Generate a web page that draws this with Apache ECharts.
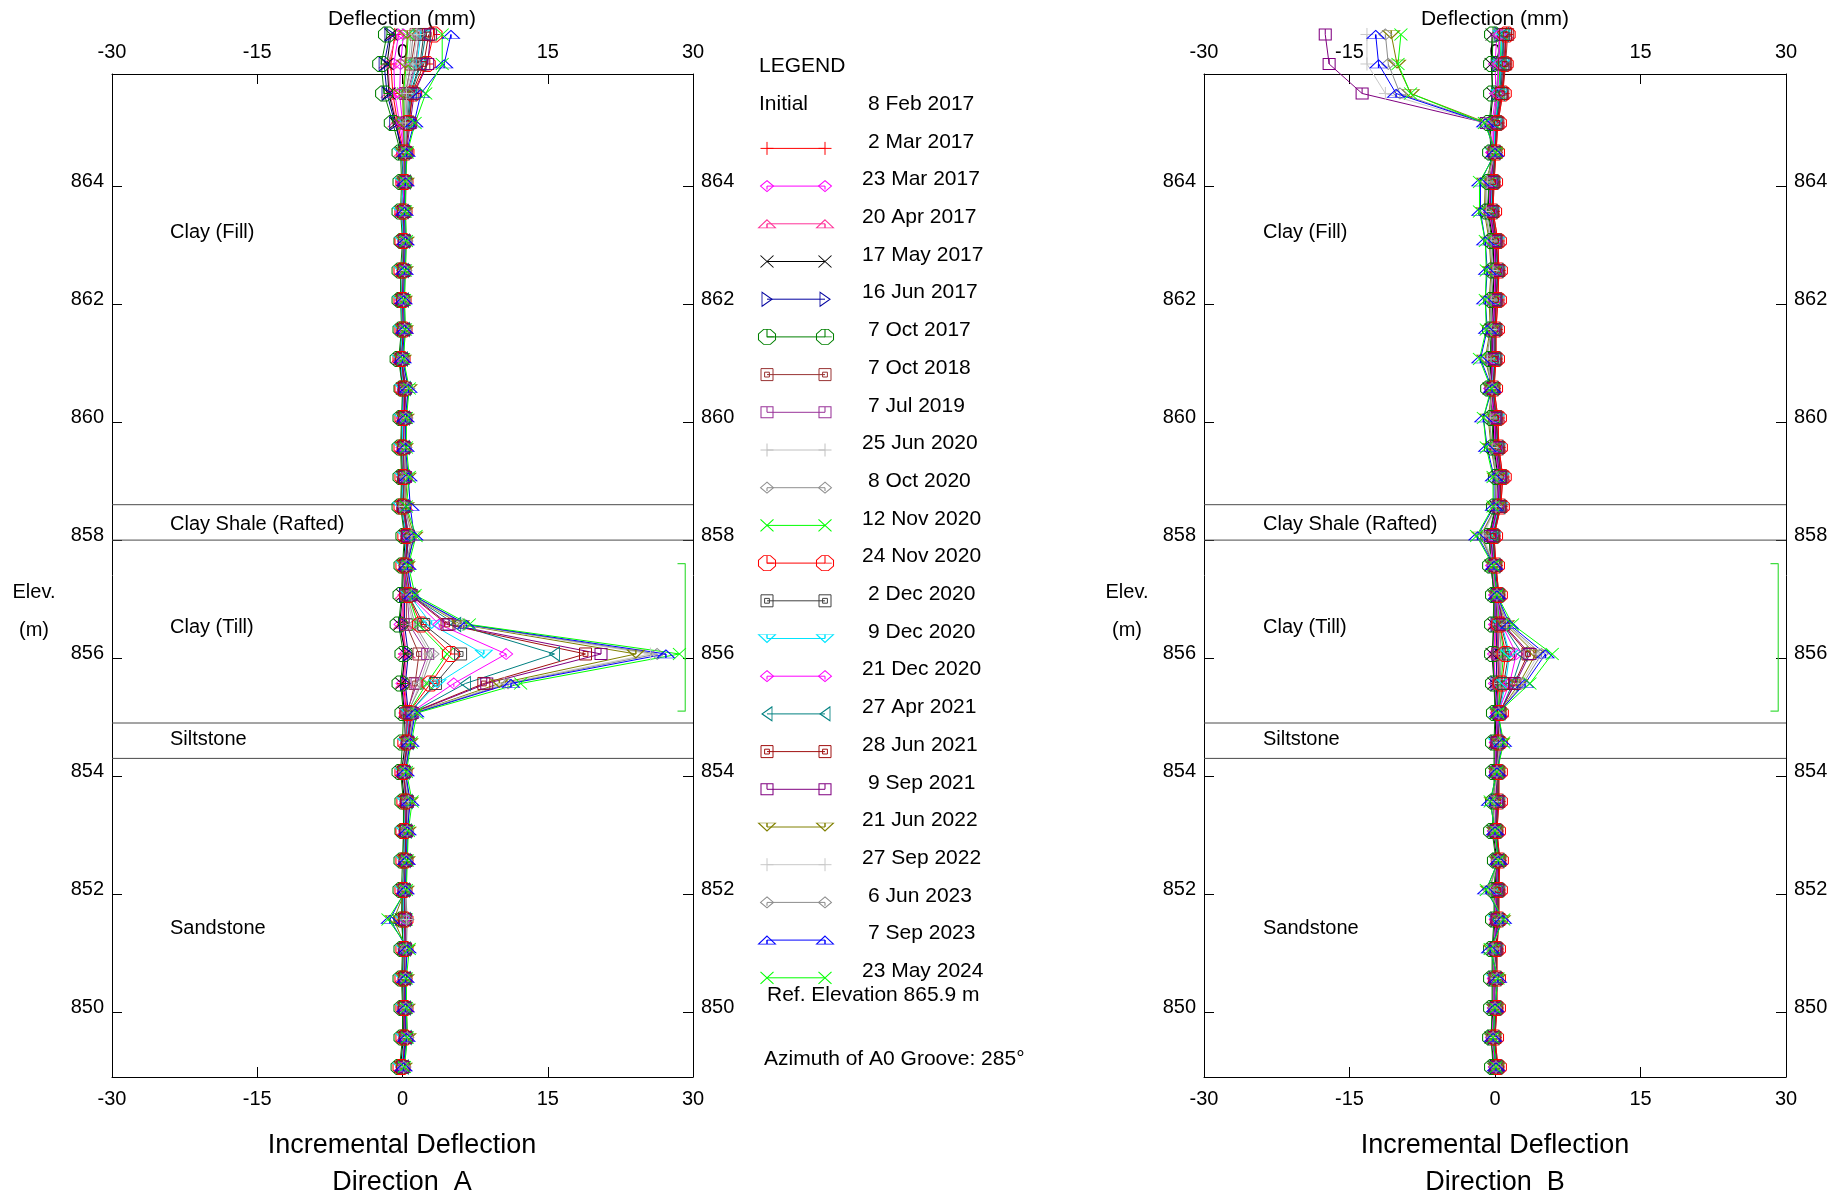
<!DOCTYPE html>
<html lang="en">
<head>
<meta charset="UTF-8">
<title>Incremental Deflection</title>
<script src="https://cdn.jsdelivr.net/npm/echarts@6/dist/echarts.min.js"></script>
<style>
    html, body { margin: 0; padding: 0; background: #fff; }
    #main { width: 1847px; height: 1197px; }
</style>
</head>
<body>
<div id="main"></div>
<script>
    const FONT = '"Liberation Sans", Arial, Helvetica, sans-serif';

    // reading elevations (m), top to bottom
    const elevations = [866.57, 866.07, 865.57, 865.07, 864.57, 864.07, 863.57, 863.07, 862.57, 862.07,
        861.57, 861.07, 860.57, 860.07, 859.57, 859.07, 858.57, 858.07, 857.57, 857.07,
        856.57, 856.07, 855.57, 855.07, 854.57, 854.07, 853.57, 853.07, 852.57, 852.07,
        851.57, 851.07, 850.57, 850.07, 849.57, 849.07];

    const initialDate = '8 Feb 2017';
    const dates = ['2 Mar 2017', '23 Mar 2017', '20 Apr 2017', '17 May 2017', '16 Jun 2017', '7 Oct 2017',
        '7 Oct 2018', '7 Jul 2019', '25 Jun 2020', '8 Oct 2020', '12 Nov 2020', '24 Nov 2020',
        '2 Dec 2020', '9 Dec 2020', '21 Dec 2020', '27 Apr 2021', '28 Jun 2021', '9 Sep 2021',
        '21 Jun 2022', '27 Sep 2022', '6 Jun 2023', '7 Sep 2023', '23 May 2024'];

    const colors = ['#ff0000', '#ff00ff', '#ff3399', '#000000', '#0000a0', '#008000',
        '#993333', '#993399', '#c0c0c0', '#909090', '#00ff00', '#ff0000',
        '#404040', '#00e5ff', '#ff00ff', '#008080', '#a01010', '#800080',
        '#808000', '#c8c8c8', '#8c8c8c', '#0000ff', '#00ff00'];

    const markers = ['plus', 'diamond', 'triUp', 'cross', 'triRight', 'octagon',
        'squareIn', 'square', 'plus', 'diamond', 'cross', 'octagon',
        'squareIn', 'triDown', 'diamond', 'triLeft', 'squareIn', 'square',
        'triDown', 'plus', 'diamond', 'triUp', 'cross'];

    const xTicks = [-30, -15, 0, 15, 30];
    const yTicks = [850, 852, 854, 856, 858, 860, 862, 864];
    const strata = [858.6, 858.0, 854.9, 854.3];
    const strataNames = ['Clay (Fill)', 'Clay Shale (Rafted)', 'Clay (Till)', 'Siltstone', 'Sandstone'];
    const zoneTop = 857.6, zoneBottom = 855.1;

    // incremental deflection, direction A (mm), one row per reading date
    const dirA = [
        [-0.8,-1.2,-1.0,-0.5, 0.1,0.2,0.2,0.1,0.0,0.1,0.0,-0.1,0.1,0.0,0.1,0.0,0.0,0.4,0.2,0.2, 0.1,0.2,0.1, 0.4,0.5,0.2,0.4,0.5,0.2,0.3,0.2,0.4,0.2,0.1,0.4,-0.1],
        [-0.4,-0.9,-0.8,-0.3, 0.2,0.0,0.1,0.3,0.1,-0.1,0.1,-0.2,0.2,0.2,0.0,0.2,0.1,0.5,0.3,0.2, -0.2,0.3,0.0, 0.3,0.6,0.0,0.5,0.3,0.4,0.1,0.3,0.2,0.3,0.2,0.3,0.1],
        [-0.6,-1.5,-1.3,-0.6, 0.0,0.2,0.0,0.2,0.1,0.0,0.2,-0.3,0.2,0.1,0.1,0.3,0.2,0.6,0.4,0.1, 0.0,0.4,0.2, 0.5,0.4,0.1,0.4,0.3,0.4,0.2,0.1,0.3,0.1,0.3,0.2,0.0],
        [-1.2,-1.6,-1.4,-0.7, -0.1,0.1,-0.1,0.1,0.0,-0.1,0.0,-0.3,0.0,0.0,-0.1,0.0,-0.1,0.3,0.1,0.0, -0.3,0.3,-0.1, 0.2,0.3,-0.1,0.2,0.1,0.2,0.0,-0.1,0.1,0.0,0.1,0.1,-0.2],
        [-1.3,-1.9,-1.6,-0.8, 0.1,0.3,0.2,0.3,0.2,0.1,0.2,0.0,0.3,0.3,0.2,0.2,0.1,0.6,0.4,0.2, 0.2,0.6,0.3, 0.6,0.6,0.2,0.6,0.5,0.4,0.3,0.4,0.4,0.3,0.2,0.4,0.1],
        [-1.6,-2.2,-1.9,-1.0, -0.2,-0.1,-0.2,0.0,-0.2,-0.2,-0.1,-0.4,0.0,-0.1,-0.2,-0.1,-0.2,0.2,0.0,-0.1, -0.4,0.1,-0.2, 0.1,0.0,-0.2,0.1,0.1,0.0,-0.1,0.0,0.0,-0.1,0.0,0.0,-0.3],
        [1.4,0.9,0.3,0.1, 0.2,0.2,0.1,0.2,0.1,0.0,0.1,-0.1,0.2,0.1,0.1,0.1,0.1,0.5,0.3,0.4, 0.4,1.7,1.3, 0.5,0.5,0.2,0.4,0.4,0.3,0.2,0.2,0.3,0.2,0.2,0.3,0.0],
        [1.8,1.3,0.5,0.3, 0.2,0.1,0.0,0.2,0.1,0.0,0.0,-0.2,0.1,0.2,0.1,0.1,0.0,0.5,0.3,0.5, 0.7,2.6,1.5, 0.4,0.5,0.1,0.5,0.3,0.2,0.1,0.3,0.2,0.2,0.1,0.2,0.0],
        [0.9,0.6,0.2,0.2, 0.3,0.3,0.2,0.3,0.2,0.2,0.2,0.0,0.3,0.2,0.2,0.2,0.2,0.6,0.4,0.4, 1.1,2.8,1.8, 0.6,0.7,0.3,0.6,0.5,0.4,0.3,0.4,0.3,0.3,0.4,0.4,0.1],
        [1.1,0.8,0.4,0.3, 0.2,0.2,0.1,0.2,0.1,0.1,0.1,-0.1,0.2,0.1,0.1,0.1,0.1,0.5,0.3,0.5, 1.3,3.1,2.0, 0.5,0.6,0.2,0.5,0.4,0.3,0.2,0.3,0.3,0.2,0.3,0.3,0.0],
        [0.6,0.4,0.1,0.2, 0.1,0.2,0.2,0.2,0.1,0.0,0.1,-0.1,0.3,0.1,0.1,0.2,0.1,0.6,0.3,0.6, 1.6,4.6,2.5, 0.6,0.5,0.2,0.5,0.3,0.3,0.2,0.4,0.3,0.2,0.2,0.4,0.1],
        [3.2,2.5,1.1,0.6, 0.3,0.2,0.1,0.1,0.0,0.0,0.1,-0.1,0.1,0.1,0.0,0.1,0.0,0.4,0.2,0.6, 1.9,5.0,2.9, 0.6,0.4,0.1,0.3,0.2,0.2,0.1,0.2,0.2,0.1,0.2,0.2,-0.1],
        [2.2,1.8,0.8,0.5, 0.2,0.2,0.1,0.2,0.1,0.0,0.1,-0.1,0.2,0.1,0.1,0.1,0.1,0.5,0.3,0.6, 2.2,6.0,3.4, 0.7,0.5,0.1,0.4,0.4,0.3,0.2,0.3,0.2,0.2,0.3,0.3,0.0],
        [1.9,1.5,0.7,0.4, 0.0,0.1,-0.1,0.1,0.0,-0.1,0.0,-0.2,0.1,0.0,0.0,0.1,-0.1,0.4,0.2,0.7, 3.0,8.4,3.6, 0.7,0.4,0.1,0.3,0.2,0.2,0.1,0.1,0.2,0.1,0.2,0.2,-0.1],
        [0.1,-0.2,-0.3,0.0, 0.1,0.2,0.0,0.2,0.1,0.0,0.1,-0.1,0.2,0.1,0.1,0.2,0.1,0.5,0.3,0.7, 3.8,10.7,5.3, 0.8,0.5,0.1,0.4,0.3,0.3,0.2,0.2,0.3,0.2,0.2,0.3,0.0],
        [2.4,1.9,0.9,0.6, 0.2,0.3,0.1,0.2,0.1,0.1,0.2,0.0,0.3,0.2,0.2,0.2,0.1,0.6,0.4,0.8, 5.5,15.7,6.5, 0.9,0.6,0.2,0.5,0.4,0.3,0.2,0.3,0.3,0.3,0.3,0.4,0.1],
        [2.7,2.2,1.0,0.7, 0.3,0.3,0.1,0.2,0.1,0.0,0.1,-0.1,0.2,0.2,0.1,0.2,0.1,0.5,0.3,0.8, 4.6,18.9,8.4, 0.9,0.5,0.1,0.4,0.3,0.3,0.2,0.2,0.3,0.2,0.2,0.3,0.0],
        [2.9,2.6,1.2,0.8, 0.4,0.3,0.2,0.2,0.2,0.1,0.2,0.0,0.3,0.3,0.2,0.3,0.2,0.6,0.4,0.9, 4.8,20.5,8.7, 1.0,0.6,0.2,0.5,0.4,0.4,0.2,0.3,0.3,0.3,0.3,0.4,0.1],
        [0.5,0.3,0.0,0.1, 0.2,0.3,0.2,0.3,0.2,0.1,0.2,0.0,0.6,0.3,0.2,0.5,0.3,1.2,0.4,0.9, 6.0,24.1,10.0, 1.1,0.7,0.3,0.7,0.5,0.4,0.3,-0.9,0.4,0.3,0.4,0.5,0.1],
        [1.5,1.1,0.4,0.3, 0.3,0.4,0.2,0.3,0.2,0.1,0.2,0.0,0.5,0.3,0.2,0.3,0.2,0.9,0.4,0.9, 6.2,25.6,10.5, 1.1,0.7,0.2,0.6,0.5,0.4,0.3,0.4,0.4,0.3,0.3,0.5,0.1],
        [1.7,1.4,0.6,0.5, 0.3,0.4,0.3,0.4,0.3,0.2,0.3,0.1,0.6,0.4,0.3,0.4,0.2,1.0,0.4,1.0, 6.4,26.3,10.9, 1.2,0.7,0.3,0.7,0.5,0.4,0.3,0.5,0.4,0.3,0.4,0.5,0.2],
        [5.0,4.3,1.9,1.2, 0.4,0.3,0.2,0.3,0.2,0.1,0.2,0.0,0.6,0.3,0.3,0.6,0.8,1.2,0.5,1.0, 6.6,27.2,11.2, 1.3,0.8,0.3,0.8,0.5,0.4,0.3,-1.3,0.5,0.3,0.3,0.4,0.1],
        [4.1,4.1,2.4,1.3, 0.5,0.3,0.3,0.4,0.3,0.2,0.3,0.1,0.7,0.4,0.4,0.7,0.4,1.4,0.6,1.3, 6.9,28.6,12.2, 1.5,0.9,0.4,1.0,0.6,0.5,0.4,-1.5,0.7,0.4,0.4,0.5,0.2]
    ];

    // incremental deflection, direction B (mm)
    const dirB = [
        [0.8,0.6,0.5,0.1, -0.1,-0.3,-0.4,0.1,0.2,0.1,-0.1,-0.1,-0.3,0.1,0.2,0.6,0.4,-0.3,-0.1,0.2,0.1, 0.1,0.2, 0.4,0.2,0.3,0.2,0.1,0.4,0.3,0.2,0.1,0.0,0.1,-0.1,0.1],
        [0.2,0.0,0.1,-0.3, -0.3,-0.5,-0.6,-0.1,0.0,-0.1,-0.3,-0.3,-0.5,-0.1,0.0,0.4,0.2,-0.5,-0.3,0.0,0.0, -0.1,0.0, 0.2,0.1,0.1,0.1,-0.1,0.3,0.1,0.1,-0.1,-0.1,-0.1,-0.3,0.0],
        [1.0,0.8,0.6,0.2, 0.0,-0.2,-0.3,0.2,0.3,0.2,0.0,0.0,-0.2,0.2,0.3,0.7,0.5,-0.2,0.0,0.3,0.2, 0.3,0.3, 0.5,0.3,0.3,0.3,0.1,0.4,0.3,0.3,0.1,0.1,0.1,-0.1,0.2],
        [-0.3,-0.4,-0.2,-0.5, -0.4,-0.6,-0.7,-0.2,-0.1,-0.2,-0.4,-0.4,-0.6,-0.2,-0.1,0.3,0.1,-0.6,-0.4,-0.1,-0.1, -0.3,-0.1, 0.1,0.0,0.0,0.0,-0.2,0.2,0.0,0.0,-0.2,-0.2,-0.2,-0.4,-0.1],
        [0.5,0.3,0.2,-0.1, -0.1,-0.3,-0.5,0.0,0.2,0.0,-0.1,-0.2,-0.3,0.0,0.2,0.5,0.3,-0.3,-0.1,0.1,0.1, 0.2,0.1, 0.3,0.1,0.2,0.1,0.0,0.3,0.2,0.1,0.0,-0.1,0.0,-0.2,0.0],
        [-0.2,-0.3,-0.3,-0.6, -0.4,-0.6,-0.8,-0.3,-0.2,-0.3,-0.4,-0.5,-0.6,-0.3,-0.2,0.2,0.0,-0.6,-0.4,-0.1,-0.2, -0.2,-0.1, 0.0,-0.1,-0.1,-0.1,-0.3,0.1,-0.1,-0.1,-0.3,-0.3,-0.3,-0.4,-0.2],
        [1.3,1.1,0.8,0.3, 0.1,-0.1,-0.2,0.3,0.4,0.3,0.1,0.1,-0.1,0.3,0.4,0.8,0.6,-0.1,0.1,0.4,0.3, 0.3,0.4, 0.5,0.4,0.4,0.4,0.2,0.5,0.4,0.4,0.2,0.2,0.2,0.0,0.3],
        [1.1,0.9,0.7,0.2, 0.0,-0.2,-0.3,0.1,0.3,0.1,0.0,0.0,-0.2,0.1,0.3,0.6,0.5,-0.2,0.0,0.3,0.3, 0.4,0.5, 0.4,0.3,0.3,0.3,0.1,0.4,0.3,0.3,0.1,0.1,0.1,-0.1,0.2],
        [0.6,0.5,0.4,0.0, -0.1,-0.3,-0.4,0.1,0.2,0.1,-0.1,-0.1,-0.3,0.1,0.2,0.6,0.4,-0.3,-0.1,0.2,0.4, 0.6,0.5, 0.3,0.2,0.2,0.2,0.0,0.3,0.2,0.2,0.0,0.0,0.0,-0.2,0.1],
        [0.4,0.3,0.2,-0.1, -0.2,-0.4,-0.5,0.0,0.1,0.0,-0.2,-0.2,-0.4,0.0,0.1,0.5,0.3,-0.4,-0.2,0.1,0.4, 0.7,0.5, 0.3,0.1,0.1,0.1,-0.1,0.3,0.1,0.1,-0.1,-0.1,-0.1,-0.3,0.0],
        [0.7,0.5,0.4,-0.1, -0.1,-0.3,-0.4,0.1,0.2,0.1,-0.1,-0.1,-0.3,0.1,0.2,0.6,0.4,-0.3,-0.1,0.2,0.5, 0.9,0.6, 0.3,0.2,0.2,0.2,0.0,0.4,0.2,0.2,0.0,0.0,0.0,-0.2,0.1],
        [1.2,1.0,0.8,0.3, 0.1,-0.1,-0.2,0.3,0.4,0.3,0.1,0.1,-0.1,0.3,0.4,0.8,0.6,-0.1,0.1,0.4,0.5, 1.1,0.7, 0.5,0.4,0.4,0.4,0.2,0.5,0.4,0.4,0.2,0.2,0.2,0.0,0.3],
        [0.9,0.8,0.6,0.1, 0.0,-0.2,-0.3,0.1,0.3,0.1,0.0,0.0,-0.2,0.1,0.3,0.6,0.5,-0.2,0.0,0.3,0.6, 1.4,0.9, 0.4,0.3,0.3,0.3,0.1,0.4,0.3,0.3,0.1,0.1,0.1,-0.1,0.2],
        [0.7,0.6,0.5,0.0, -0.1,-0.3,-0.4,0.1,0.2,0.1,-0.1,-0.1,-0.3,0.1,0.2,0.6,0.4,-0.3,-0.1,0.2,0.7, 1.5,1.1, 0.4,0.2,0.2,0.2,0.0,0.3,0.2,0.2,0.0,0.0,0.0,-0.2,0.1],
        [0.5,0.4,0.3,-0.1, -0.2,-0.4,-0.5,0.0,0.1,0.0,-0.2,-0.2,-0.4,0.0,0.1,0.5,0.3,-0.4,-0.2,0.1,0.7, 2.2,1.5, 0.3,0.1,0.1,0.1,-0.1,0.3,0.1,0.1,-0.1,-0.1,-0.1,-0.3,0.0],
        [0.9,0.7,0.5,0.1, 0.0,-0.2,-0.3,0.1,0.3,0.1,0.0,0.0,-0.2,0.1,0.3,0.6,0.5,-0.2,0.0,0.3,0.8, 2.8,1.8, 0.5,0.3,0.3,0.3,0.1,0.4,0.3,0.3,0.1,0.1,0.1,-0.1,0.2],
        [1.1,1.0,0.7,0.2, 0.0,-0.2,-0.3,0.1,0.3,0.1,0.0,0.0,-0.2,0.1,0.3,0.6,0.5,-0.2,0.0,0.3,0.8, 3.4,2.0, 0.5,0.3,0.3,0.3,0.1,0.4,0.3,0.3,0.1,0.1,0.1,-0.1,0.2],
        [-17.5,-17.1,-13.7,-0.9, -0.1,-0.4,-0.5,0.0,0.1,0.0,-0.2,-0.3,-0.4,0.0,0.1,0.5,0.3,-0.5,-0.1,0.2,0.9, 3.6,2.1, 0.4,0.2,0.1,0.2,0.0,0.3,0.1,0.2,0.0,0.0,0.0,-0.2,0.1],
        [-10.7,-10.1,-8.7,-0.8, 0.0,-1.0,-1.1,-0.6,-0.4,-0.6,-0.5,-1.0,-0.3,-0.7,-0.4,0.1,0.1,-1.5,-0.1,0.2,1.1, 4.2,2.5, 0.4,0.6,0.2,-0.2,0.0,0.3,-0.6,0.7,-0.3,0.2,0.0,-0.2,0.1],
        [-13.2,-13.2,-11.3,-1.0, 0.0,-0.8,-0.9,-0.4,-0.2,-0.4,-0.4,-0.8,-0.3,-0.5,-0.3,0.2,0.1,-1.2,-0.1,0.2,1.2, 4.5,2.7, 0.4,0.5,0.2,-0.1,0.0,0.3,-0.5,0.6,-0.2,0.2,0.0,-0.2,0.1],
        [-11.3,-11.0,-9.8,-0.9, 0.0,-0.9,-1.0,-0.5,-0.3,-0.5,-0.4,-0.9,-0.3,-0.6,-0.3,0.1,0.1,-1.4,-0.1,0.2,1.3, 4.8,2.9, 0.4,0.6,0.2,-0.3,0.0,0.3,-0.6,0.7,-0.3,0.2,0.0,-0.2,0.1],
        [-12.3,-12.0,-10.2,-1.0, 0.0,-1.5,-1.5,-1.0,-0.8,-1.0,-0.8,-1.5,-0.3,-1.2,-0.8,-0.1,-0.1,-1.8,-0.1,0.2,1.5, 5.2,3.1, 0.3,0.8,0.2,-0.5,0.0,0.35,-0.9,0.8,-0.5,0.3,0.0,-0.2,0.1],
        [-9.7,-10.0,-8.7,-1.1, 0.1,-1.6,-1.6,-1.0,-0.9,-1.0,-0.9,-1.6,-0.4,-1.2,-0.9,-0.2,-0.2,-1.9,-0.2,0.2,1.8, 5.9,3.6, 0.3,0.9,0.2,-0.5,0.0,0.35,-0.9,0.9,-0.5,0.3,0.0,-0.2,0.1]
    ];

    // outline marker shapes, drawn on a 10x10 box
    const symbolDefs = {
        plus:     { path: 'path://M5,0L5,10M0,5L10,5', size: [13, 13] },
        cross:    { path: 'path://M0,0L10,10M10,0L0,10', size: [13, 12] },
        diamond:  { path: 'path://M5,0L10,5L5,10L0,5ZM5,5L5,8', size: [13, 11] },
        triUp:    { path: 'path://M5,0L10,10L0,10ZM5,5L5,10', size: [17, 8] },
        triDown:  { path: 'path://M0,0L10,0L5,10ZM5,0L5,5', size: [17, 8] },
        triRight: { path: 'path://M0,0L10,5L0,10Z', size: [10, 14] },
        triLeft:  { path: 'path://M10,0L0,5L10,10Z', size: [10, 14] },
        octagon:  { path: 'path://M3,0L7,0L10,3L10,7L7,10L3,10L0,7L0,3ZM5,0L5,5L9,5', size: [17, 15] },
        squareIn: { path: 'path://M0,0L10,0L10,10L0,10ZM3,3L7,3L7,7L3,7Z', size: [12, 12] },
        square:   { path: 'path://M0,0L10,0L10,10L0,10ZM5,0L5,5', size: [12, 11] }
    };

    let myChart = echarts.init(document.getElementById('main'));

    function xAxisFor(grid, pos) {
        return {
            type: 'value', gridIndex: grid, position: pos,
            min: xTicks[0], max: xTicks[xTicks.length - 1], interval: xTicks[1] - xTicks[0],
            axisLine: { show: true, onZero: false, lineStyle: { color: '#000', width: 1 } },
            axisTick: { show: true, inside: true, length: 10, lineStyle: { color: '#000' } },
            axisLabel: { fontSize: 20, fontFamily: FONT, color: '#000', margin: 12 },
            splitLine: { show: false }
        };
    }

    function yAxisFor(grid, pos) {
        return {
            type: 'value', gridIndex: grid, position: pos, min: 848.9, max: 865.9,
            axisLine: { show: true, onZero: false, lineStyle: { color: '#000', width: 1 } },
            axisTick: { show: true, inside: true, length: 10, customValues: yTicks, lineStyle: { color: '#000' } },
            // labels sit a little above their ticks
            axisLabel: {
                fontSize: 20, fontFamily: FONT, color: '#000', margin: 8, customValues: yTicks,
                verticalAlign: 'bottom', lineHeight: 9
            },
            splitLine: { show: false }
        };
    }

    function readingSeries(vals, s, axis) {
        let m = symbolDefs[markers[s]];
        return {
            type: 'line', name: dates[s], xAxisIndex: axis, yAxisIndex: axis,
            data: vals.map((v, k) => [v, elevations[k]]),
            symbol: m.path, symbolSize: m.size, showAllSymbol: true,
            clip: false, silent: true, animation: false,
            lineStyle: { color: colors[s], width: 1 },
            itemStyle: { color: 'rgba(0,0,0,0)', borderColor: colors[s], borderWidth: 1 },
            emphasis: { disabled: true }, z: 3
        };
    }

    function plainLine(data, axis, color, width) {
        return {
            type: 'line', xAxisIndex: axis, yAxisIndex: axis, data: data,
            symbol: 'none', silent: true, animation: false, clip: false,
            lineStyle: { color: color, width: width }, emphasis: { disabled: true }, z: 2
        };
    }

    // axis indices: panel A uses x0/y0, panel B x2/y2, legend x4/y4
    const panelAxis = [0, 2];
    let series = [];
    // geology boundaries and the green zone bracket, both panels
    panelAxis.forEach(ax => {
        strata.forEach(v => series.push(plainLine([[xTicks[0], v], [xTicks[4], v]], ax, '#4a4a4a', 1)));
        series.push(plainLine([[28.4, zoneTop], [29.2, zoneTop], [29.2, zoneBottom], [28.4, zoneBottom]], ax, '#40dd40', 1.2));
    });
    dirA.forEach((vals, s) => series.push(readingSeries(vals, s, panelAxis[0])));
    dirB.forEach((vals, s) => series.push(readingSeries(vals, s, panelAxis[1])));

    // legend samples: one short line with a marker at each end
    dates.forEach((d, i) => {
        let m = symbolDefs[markers[i]];
        series.push({
            type: 'line', xAxisIndex: 4, yAxisIndex: 4, data: [[0, i], [1, i]],
            symbol: m.path, symbolSize: m.size, silent: true, animation: false, clip: false,
            lineStyle: { color: colors[i], width: 1 },
            itemStyle: { color: 'rgba(0,0,0,0)', borderColor: colors[i], borderWidth: 1 },
            emphasis: { disabled: true }
        });
    });

    function txt(x, y, text, size, align) {
        return {
            type: 'text', x: x, y: y, silent: true,
            style: {
                text: text, fontSize: size, fontFamily: FONT, fill: '#000',
                align: align || 'left', verticalAlign: 'middle',
                textAlign: align || 'left', textVerticalAlign: 'middle'
            }
        };
    }

    // single-digit days are padded by a space so the month names line up
    function dayPad(d) {
        return d.split(' ')[0].length === 1 ? 6 : 0;
    }

    let graphics = [];
    const rowH = 37.7, rowY0 = 148.4;
    graphics.push(txt(759, 66, 'LEGEND', 21));
    graphics.push(txt(759, 104, 'Initial', 21));
    graphics.push(txt(862 + dayPad(initialDate), rowY0 - rowH - 6.5, initialDate, 21));
    dates.forEach((d, i) => {
        graphics.push(txt(862 + dayPad(d), rowY0 + i * rowH - 6.5, d, 21));
    });
    graphics.push(txt(767, 995, 'Ref. Elevation 865.9 m', 21));
    graphics.push(txt(764, 1059, 'Azimuth of A0 Groove: 285°', 21));

    const labelY = [232, 524, 627, 739, 928];
    [[170, 402, 34, 'A'], [1263, 1495, 1127, 'B']].forEach(p => {
        strataNames.forEach((n, i) => graphics.push(txt(p[0], labelY[i], n, 20)));
        graphics.push(txt(p[1], 19, 'Deflection (mm)', 21, 'center'));
        graphics.push(txt(p[1], 1146, 'Incremental Deflection', 27, 'center'));
        graphics.push(txt(p[1], 1183, 'Direction  ' + p[3], 27, 'center'));
        graphics.push(txt(p[2], 592, 'Elev.', 20, 'center'));
        graphics.push(txt(p[2], 630, '(m)', 20, 'center'));
    });

    let option = {
        backgroundColor: '#fff',
        animation: false,
        grid: [
            { left: 112, top: 74, width: 581, height: 1003 },
            { left: 1204, top: 74, width: 582, height: 1003 },
            { left: 767, top: rowY0 - rowH / 2, width: 58, height: rowH * dates.length }
        ],
        xAxis: [
            xAxisFor(0, 'bottom'), xAxisFor(0, 'top'),
            xAxisFor(1, 'bottom'), xAxisFor(1, 'top'),
            { type: 'value', gridIndex: 2, min: 0, max: 1, show: false }
        ],
        yAxis: [
            yAxisFor(0, 'left'), yAxisFor(0, 'right'),
            yAxisFor(1, 'left'), yAxisFor(1, 'right'),
            { type: 'value', gridIndex: 2, min: -0.5, max: dates.length - 0.5, inverse: true, show: false }
        ],
        series: series,
        graphic: graphics
    };

    myChart.setOption(option);
</script>
</body>
</html>
